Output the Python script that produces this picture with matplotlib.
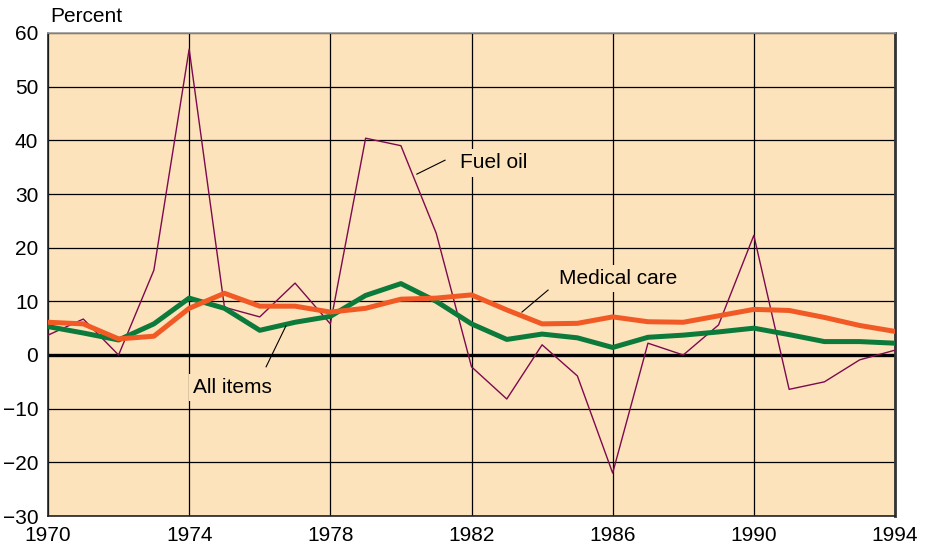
import matplotlib.pyplot as plt

plt.rcParams['font.family'] = ['Liberation Sans', 'DejaVu Sans']

# Annual percent change, 1970-1994
years = list(range(1970, 1995))
fuel_oil = [3.7, 6.7, 0.0, 15.8, 57.0, 8.9, 7.1, 13.4, 5.8, 40.4, 39.0, 22.7, -2.2,
            -8.2, 1.9, -3.9, -22.0, 2.2, 0.0, 5.6, 22.3, -6.4, -5.0, -0.9, 0.9]
medical_care = [6.1, 5.8, 3.0, 3.5, 8.7, 11.5, 9.1, 9.1, 8.0, 8.7, 10.4, 10.6, 11.2,
                8.4, 5.8, 5.9, 7.1, 6.2, 6.1, 7.3, 8.5, 8.3, 7.0, 5.5, 4.4]
all_items = [5.3, 4.1, 2.8, 5.8, 10.6, 8.7, 4.6, 6.1, 7.2, 11.1, 13.3, 10.0, 5.8,
             2.9, 3.9, 3.2, 1.4, 3.3, 3.7, 4.3, 5.0, 3.8, 2.5, 2.5, 2.2]

x_ticks = [1970, 1974, 1978, 1982, 1986, 1990, 1994]
y_ticks = [-30, -20, -10, 0, 10, 20, 30, 40, 50, 60]

bg = '#fde3bb'

fig = plt.figure(figsize=(9.29, 5.44), dpi=100)
ax = fig.add_axes([48 / 929, 28 / 544, 847 / 929, 483 / 544])
ax.set_facecolor(bg)

ax.set_xlim(1970, 1994)
ax.set_ylim(-30, 60)
ax.set_xticks(x_ticks)
ax.set_yticks(y_ticks)
ax.set_yticklabels([str(v).replace('-', '\u2212') for v in y_ticks])
ax.tick_params(length=0, labelsize=15, colors='black')
ax.tick_params(axis='x', pad=7)
ax.tick_params(axis='y', pad=7)
ax.grid(True, color='black', linewidth=0.9)
ax.set_axisbelow(True)
ax.axhline(0, color='black', linewidth=2.4, zorder=2)

ax.plot(years, fuel_oil, color='#7d0a4f', linewidth=1.0, zorder=3)
ax.plot(years, all_items, color='#0b7a3b', linewidth=3.6, zorder=4)
ax.plot(years, medical_care, color='#f15a24', linewidth=3.6, zorder=5)

for side in ['left', 'bottom']:
    ax.spines[side].set_color('#222222')
    ax.spines[side].set_linewidth(1.2)
ax.spines['top'].set_color('#999999')
ax.spines['top'].set_linewidth(1.2)
ax.spines['right'].set_color('#333333')
ax.spines['right'].set_linewidth(2.0)

box = dict(facecolor=bg, edgecolor='none', pad=3)
ax.text(1975.24, -6.1, 'All items', fontsize=15, ha='center', va='center', bbox=box, zorder=6)
ax.plot([1976.18, 1976.74], [-2.2, 5.4], color='black', linewidth=0.8, zorder=6)
ax.text(1982.64, 35.8, 'Fuel oil', fontsize=15, ha='center', va='center', bbox=box, zorder=6)
ax.plot([1980.45, 1981.25], [33.7, 36.3], color='black', linewidth=0.8, zorder=6)
ax.text(1986.15, 14.2, 'Medical care', fontsize=15, ha='center', va='center', bbox=box, zorder=6)
ax.plot([1983.43, 1984.17], [8.0, 12.1], color='black', linewidth=0.8, zorder=6)

fig.text(50 / 929, 1 - 17 / 544, 'Percent', fontsize=15, ha='left', va='center')

fig.savefig('out.png', dpi=100)
